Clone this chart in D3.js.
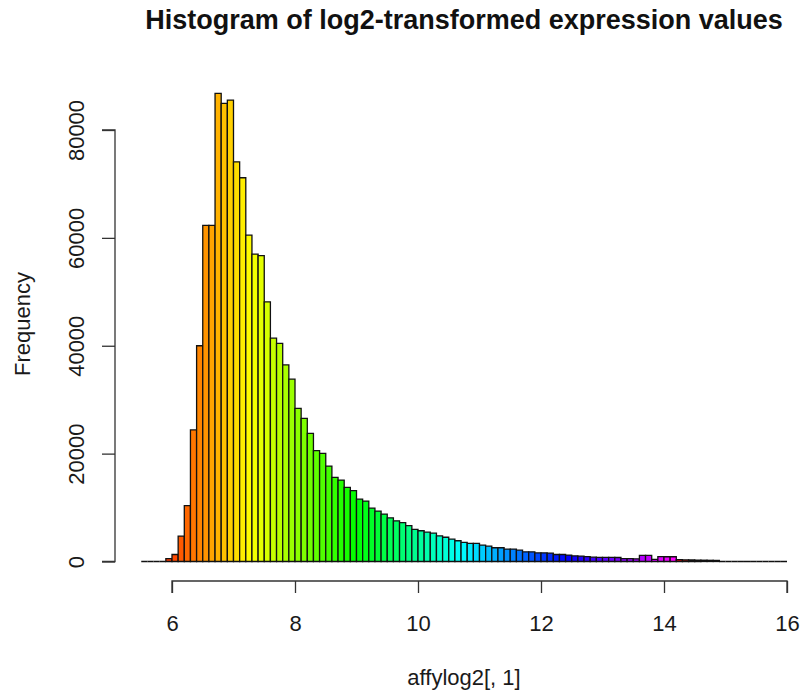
<!DOCTYPE html>
<html>
<head>
<meta charset="utf-8">
<script src="https://cdnjs.cloudflare.com/ajax/libs/d3/7.8.5/d3.min.js"></script>
<style>
  html, body { margin: 0; padding: 0; background: #fff; }
  svg { display: block; font-family: "Liberation Sans", Arial, sans-serif; }
</style>
</head>
<body>
<svg id="chart" width="801" height="691"></svg>
<script>
// Histogram bins: lower edge of the first bin and common bin width
const binStart = 5.5;
const binWidth = 0.1;

// Counts per bin, from 5.5 up to 16.0
const counts = [
  0, 0, 0, 0, 550, 1300, 4700, 10350, 24400, 40000,
  62300, 62300, 86800, 84950, 85550, 74100, 71150, 60500, 57000, 56700,
  48150, 41400, 40450, 36450, 33800, 28400, 26550, 23750, 20550, 20050,
  17700, 15600, 15100, 13750, 13150, 11550, 11200, 9900, 9350, 8800,
  8100, 7550, 7200, 6650, 5950, 5700, 5450, 5250, 4750, 4500,
  4150, 3850, 3550, 3350, 3350, 3050, 2850, 2550, 2550, 2300,
  2300, 2100, 1800, 1800, 1600, 1600, 1550, 1300, 1300, 1200,
  1050, 1000, 900, 800, 780, 780, 760, 740, 520, 520,
  500, 1150, 1150, 400, 900, 880, 880, 330, 300, 280,
  260, 240, 220, 200, 0, 0, 0, 0, 0, 0,
  0, 0, 0, 0, 0
];

const xTicks = [6, 8, 10, 12, 14, 16];
const yTicks = [0, 20000, 40000, 60000, 80000];

const titleText = "Histogram of log2-transformed expression values";
const xLabel = "affylog2[, 1]";
const yLabel = "Frequency";

// Number of hues in the rainbow palette (recycled over the bins)
const paletteSize = 87;
const palette = d3.range(paletteSize).map(i =>
  d3.hsl((i / (paletteSize - 1)) * 300, 1, 0.5).formatHex());

const svg = d3.select("#chart");

const x = d3.scaleLinear().domain([6, 16]).range([172, 787]);
const y = d3.scaleLinear().domain([0, 80000]).range([561.5, 130]);

const bins = counts.map((c, i) => ({
  x0: binStart + i * binWidth,
  x1: binStart + (i + 1) * binWidth,
  count: c,
  color: palette[i % paletteSize]
}));

// Bars drawn as closed paths so empty bins still show as a flat outline
svg.append("g")
  .selectAll("path")
  .data(bins)
  .join("path")
  .attr("d", d => {
    const p = d3.path();
    p.moveTo(x(d.x0), y(0));
    p.lineTo(x(d.x0), y(d.count));
    p.lineTo(x(d.x1), y(d.count));
    p.lineTo(x(d.x1), y(0));
    p.closePath();
    return p.toString();
  })
  .attr("fill", d => d.color)
  .attr("stroke", "#111")
  .attr("stroke-width", 1.3)
  .attr("stroke-linejoin", "miter");

// X axis below the plot region
const xAxis = svg.append("g")
  .attr("transform", "translate(0,581)")
  .call(d3.axisBottom(x).tickValues(xTicks).tickSize(12).tickPadding(22)
    .tickFormat(d3.format("d")));
xAxis.select(".domain").attr("d", `M${x(6)},12V0H${x(16)}V12`)
  .attr("stroke", "#333").attr("stroke-width", 1.3);
xAxis.selectAll(".tick line").attr("stroke", "#333").attr("stroke-width", 1.3);
xAxis.selectAll(".tick text")
  .attr("font-size", 22).attr("fill", "#1a1a1a")
  .attr("font-family", "'Liberation Sans', Arial, sans-serif");

// Y axis with rotated labels
const yAxis = svg.append("g")
  .attr("transform", "translate(115,0)")
  .call(d3.axisLeft(y).tickValues(yTicks).tickSize(13).tickFormat(d3.format("d")));
yAxis.select(".domain").attr("d", `M-13,${y(0)}H0V${y(80000)}H-13`)
  .attr("stroke", "#333").attr("stroke-width", 1.3);
yAxis.selectAll(".tick line").attr("stroke", "#333").attr("stroke-width", 1.3);
yAxis.selectAll(".tick text")
  .attr("font-size", 22).attr("fill", "#1a1a1a")
  .attr("font-family", "'Liberation Sans', Arial, sans-serif")
  .attr("x", null).attr("dy", null)
  .attr("text-anchor", "middle")
  .attr("transform", "translate(-31,0) rotate(-90)");

// Title and axis labels
svg.append("text")
  .attr("x", 464).attr("y", 29)
  .attr("text-anchor", "middle")
  .attr("font-size", 27).attr("font-weight", "bold").attr("fill", "#111")
  .text(titleText);

svg.append("text")
  .attr("x", 464).attr("y", 685)
  .attr("text-anchor", "middle")
  .attr("font-size", 22).attr("fill", "#1a1a1a")
  .text(xLabel);

svg.append("text")
  .attr("transform", "translate(30,324) rotate(-90)")
  .attr("text-anchor", "middle")
  .attr("font-size", 22).attr("fill", "#1a1a1a")
  .text(yLabel);
</script>
</body>
</html>
